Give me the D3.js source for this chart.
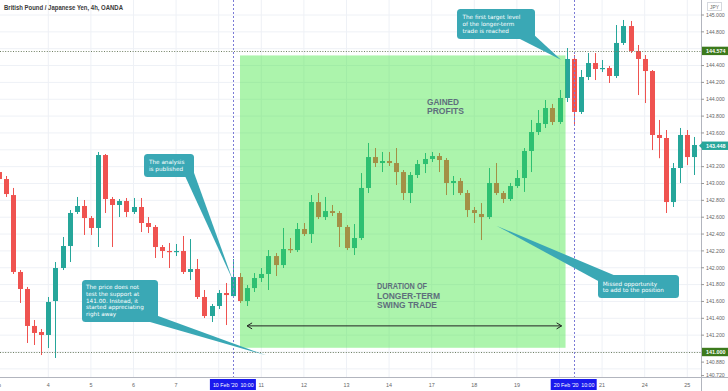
<!DOCTYPE html>
<html><head><meta charset="utf-8">
<script src="https://cdn.jsdelivr.net/npm/d3@7"></script>
<style>body{margin:0;background:#fff;}svg{display:block;}</style>
</head><body>
<svg id="c" width="728" height="391"></svg>
<script>
// ---- data (GBP/JPY 4h candles, index 0..98) ----
const opens = [143.136,143.053,142.863,141.950,141.748,141.309,141.237,141.202,141.605,141.997,
142.258,142.662,142.733,142.590,142.472,143.338,142.816,142.745,142.792,142.662,
142.721,142.531,142.484,142.246,142.199,142.187,142.199,141.950,141.985,141.653,
141.427,141.546,141.700,141.664,141.890,141.605,141.759,141.878,141.926,142.139,
142.032,142.222,142.210,142.460,142.400,142.780,142.602,142.673,142.650,142.484,
142.234,142.353,142.947,143.314,143.243,143.267,143.243,143.136,142.887,143.101,
143.231,143.291,143.326,143.279,143.006,143.030,142.887,142.685,142.638,142.602,
143.006,142.887,142.816,142.970,143.065,143.386,143.611,143.706,143.896,143.730,
144.015,144.478,143.849,144.264,144.430,144.359,144.371,144.276,144.668,144.869,
144.573,144.478,144.335,143.576,143.540,142.780,143.184,143.576,143.314];
const highs = [143.184,143.089,142.947,141.973,141.772,141.380,141.273,141.653,142.068,142.365,
142.685,142.840,142.804,142.614,143.374,143.350,142.840,142.816,142.828,142.828,
142.828,142.602,142.507,142.270,142.294,142.282,142.377,142.341,142.104,141.736,
141.570,141.736,141.819,142.104,141.937,141.795,141.937,141.997,142.210,142.175,
142.472,142.353,142.531,142.531,142.863,142.887,142.840,142.745,142.673,142.507,
142.519,143.124,143.481,143.421,143.374,143.374,143.421,143.160,143.136,143.279,
143.362,143.374,143.362,143.303,143.089,143.065,142.923,142.721,142.768,143.184,
143.243,142.911,143.006,143.160,143.421,143.754,143.872,143.991,143.944,144.110,
144.608,144.525,144.347,144.549,144.549,144.466,144.395,144.881,144.941,144.929,
144.644,144.525,144.347,143.754,143.635,143.243,143.659,143.635,143.552];
const lows = [143.018,142.840,141.926,141.582,141.107,141.083,140.964,141.047,140.929,141.973,
142.068,142.638,142.389,142.389,142.246,142.650,142.246,142.602,142.602,142.638,
142.424,142.412,142.116,142.116,141.997,142.139,141.926,141.854,141.629,141.403,
141.356,141.510,141.320,141.641,141.582,141.546,141.712,141.831,141.736,141.902,
141.997,142.175,142.187,142.377,142.294,142.578,142.567,142.614,142.246,142.210,
142.151,142.329,142.887,143.196,143.136,143.208,142.982,142.804,142.768,143.065,
143.124,143.255,143.136,142.863,142.863,142.863,142.602,142.531,142.329,142.578,
142.863,142.768,142.792,142.947,142.900,143.136,143.576,143.659,143.694,143.706,
143.967,143.694,143.825,144.228,144.228,144.323,144.193,144.252,144.644,144.549,
144.050,143.955,143.397,143.300,142.650,142.721,143.006,143.219,143.101];
const closes = [143.053,142.875,141.950,141.748,141.309,141.226,141.202,141.594,141.997,142.258,
142.650,142.733,142.590,142.472,143.338,142.816,142.745,142.792,142.662,142.721,
142.531,142.484,142.246,142.199,142.187,142.199,141.950,141.985,141.653,141.427,
141.546,141.700,141.676,141.890,141.605,141.759,141.878,141.926,142.139,142.032,
142.222,142.210,142.460,142.400,142.780,142.602,142.673,142.650,142.484,142.234,
142.353,142.947,143.314,143.243,143.267,143.243,143.136,142.887,143.101,143.231,
143.291,143.326,143.279,143.006,143.030,142.887,142.685,142.650,142.602,143.006,
142.887,142.816,142.970,143.065,143.386,143.611,143.718,143.896,143.730,144.015,
144.478,143.849,144.264,144.430,144.359,144.371,144.276,144.668,144.869,144.573,
144.478,144.335,143.576,143.540,142.780,143.184,143.576,143.314,143.457];

const dayLabels = ["Feb","4","5","6","7","10","11","12","13","14","17","18","19","20","21","24","25"];
const dayStartIndex = [-0.3,7,13,19,25,31,37,43,49,55,61,67,73,79,85,91,97];
const hiddenDayLabels = ["10","20"];           // covered by the event date boxes
const priceTicks = [145.0,144.8,144.4,144.2,144.0,143.8,143.6,143.2,143.0,
  142.8,142.6,142.4,142.2,142.0,141.8,141.6,141.4,141.2,140.88,140.72];
const gridPrices = [145.0,144.8,144.6,144.4,144.2,144.0,143.8,143.6,143.4,143.2,143.0,
  142.8,142.6,142.4,142.2,142.0,141.8,141.6,141.4,141.2,141.0,140.8];
const targetLevel = 144.574, supportLevel = 141.000, lastPrice = 143.448;
const eventIndex = [33, 81];
const eventLabels = [["10 Feb '20","10:00"],["20 Feb '20","10:00"]];
const tradeStart = 34, tradeEnd = 79.85, zoneTop = 144.52, zoneBottom = 141.05;

// ---- scales ----
const W = 728, H = 391, axisX = 701, axisY = 377;
const x = d3.scaleLinear().domain([0, 98]).range([-1.4, 694.4]);
const y = d3.scaleLinear().domain([141, 145]).range([352, 15]);
const svg = d3.select("#c");
const FONT = "'Liberation Sans', Arial, sans-serif";

const candles = d3.range(opens.length).map(i => ({i, o:opens[i], h:highs[i], l:lows[i], c:closes[i]}));

svg.append("defs").append("clipPath").attr("id","plot")
  .append("rect").attr("x",0).attr("y",0).attr("width",axisX).attr("height",axisY);

const plot = svg.append("g").attr("clip-path","url(#plot)");

// grid
plot.selectAll("line.hg").data(gridPrices).join("line")
  .attr("x1",0).attr("x2",axisX).attr("y1",d=>y(d)).attr("y2",d=>y(d))
  .attr("stroke","#eef1f6").attr("stroke-width",1);
plot.selectAll("line.vg").data(dayStartIndex).join("line")
  .attr("x1",d=>x(d)).attr("x2",d=>x(d)).attr("y1",0).attr("y2",axisY)
  .attr("stroke","#eef1f6").attr("stroke-width",1);

// candles
const up = "#26a69a", dn = "#ef5350";
plot.selectAll("line.wick").data(candles).join("line")
  .attr("x1",d=>Math.round(x(d.i))+0.5).attr("x2",d=>Math.round(x(d.i))+0.5)
  .attr("y1",d=>y(d.h)).attr("y2",d=>y(d.l))
  .attr("stroke",d=>d.c>=d.o?up:dn).attr("stroke-width",1);
plot.selectAll("rect.body").data(candles).join("rect")
  .attr("x",d=>Math.round(x(d.i))-2).attr("width",5)
  .attr("y",d=>y(Math.max(d.o,d.c)))
  .attr("height",d=>Math.max(1.2, Math.abs(y(d.o)-y(d.c))))
  .attr("fill",d=>d.c>=d.o?up:dn);

// green trade zone overlay
plot.append("rect")
  .attr("x",x(tradeStart)).attr("width",x(tradeEnd)-x(tradeStart))
  .attr("y",y(zoneTop)).attr("height",y(zoneBottom)-y(zoneTop))
  .attr("fill","rgb(58,228,58)").attr("fill-opacity",0.42);

// dotted levels
[targetLevel, supportLevel].forEach(v=>{
  plot.append("line").attr("x1",0).attr("x2",axisX).attr("y1",Math.round(y(v))+0.5).attr("y2",Math.round(y(v))+0.5)
    .attr("stroke","#6f7f62").attr("stroke-width",1).attr("stroke-dasharray","1,1.6");
});

// vertical dashed event lines
eventIndex.forEach(ix=>{
  svg.append("line").attr("x1",Math.round(x(ix))+0.5).attr("x2",Math.round(x(ix))+0.5)
    .attr("y1",0).attr("y2",axisY+2)
    .attr("stroke","#7b7bd6").attr("stroke-width",1).attr("stroke-dasharray","2,2");
});

// texts in zone
function label(lines, x0, y0, lens){
  const t = svg.append("g");
  lines.forEach((s,k)=>t.append("text").attr("x",x0).attr("y",y0+k*9.6).text(s)
    .attr("font-family",FONT).attr("font-size",8.8).attr("font-weight",600)
    .attr("fill","#5e6e7c").attr("textLength",lens[k]).attr("lengthAdjust","spacingAndGlyphs"));
}
label(["GAINED","PROFITS"], 427, 104.5, [32,37]);
label(["DURATION OF","LONGER-TERM","SWING TRADE"], 377, 289, [50,63,60]);

// double arrow
const arrowY = y(141.31);
const ax1 = x(35), ax2 = x(79.3);
svg.append("line").attr("x1",ax1).attr("x2",ax2).attr("y1",arrowY).attr("y2",arrowY)
  .attr("stroke","#222").attr("stroke-width",1);
svg.append("path").attr("d",`M${ax1+5},${arrowY-3}L${ax1},${arrowY}L${ax1+5},${arrowY+3}`)
  .attr("fill","none").attr("stroke","#222").attr("stroke-width",1);
svg.append("path").attr("d",`M${ax2-5},${arrowY-3}L${ax2},${arrowY}L${ax2-5},${arrowY+3}`)
  .attr("fill","none").attr("stroke","#222").attr("stroke-width",1);

// callouts
const teal = "#3aa8b5";
function callout(bx,by,bw,bh,tail,lines,tx,ty){
  const g = svg.append("g");
  g.append("path").attr("d",`M${tail[0][0]},${tail[0][1]}L${tail[2][0]},${tail[2][1]}L${tail[1][0]},${tail[1][1]}Z`).attr("fill",teal);
  g.append("rect").attr("x",bx).attr("y",by).attr("width",bw).attr("height",bh).attr("rx",3.5).attr("fill",teal);
  lines.forEach((s,k)=>g.append("text").attr("x",tx).attr("y",ty+k*6.75).text(s)
    .attr("font-family","'DejaVu Sans', Verdana, sans-serif").attr("font-size",5.7).attr("fill","#fff"));
}
callout(144,154,50,23,[[185,176],[193,170],[x(33),y(141.85)]],
  ["The analysis","is published"],149,164.2);
callout(82,280,76,42,[[150,313],[150,322],[x(37.7),y(140.96)]],
  ["The price does not","test the support at","141.00. Instead, it","started appreciating","right away"],86,289.2);
callout(457,9,78,30,[[518,38],[532,33],[x(79.2),y(144.47)]],
  ["The first target level","of the longer-term","trade is reached"],462.5,19.3);
callout(598,275,81,23,[[600,282],[616,276],[x(70.1),y(142.50)]],
  ["Missed opportunity","to add to the position"],602.7,285.6);

// axes lines
svg.append("line").attr("x1",axisX+0.5).attr("x2",axisX+0.5).attr("y1",0).attr("y2",H).attr("stroke","#b2b5be");
svg.append("line").attr("x1",0).attr("x2",W).attr("y1",axisY+0.5).attr("y2",axisY+0.5).attr("stroke","#b2b5be");

// right axis ticks
const yt = svg.append("g");
priceTicks.forEach(v=>{
  yt.append("line").attr("x1",axisX).attr("x2",axisX+3).attr("y1",y(v)).attr("y2",y(v)).attr("stroke","#999");
  yt.append("text").attr("x",706).attr("y",y(v)+1.8).text(v.toFixed(3))
    .attr("font-family",FONT).attr("font-size",5.2).attr("fill","#666");
});
// JPY box
svg.append("rect").attr("x",707.5).attr("y",2.5).attr("width",14).attr("height",8).attr("fill","#fff").attr("stroke","#d5d8de");
svg.append("text").attr("x",714.5).attr("y",8.6).attr("text-anchor","middle").text("JPY")
  .attr("font-family",FONT).attr("font-size",4.8).attr("fill","#666");

// price labels
function priceBox(v, color, arrow){
  const yy = y(v);
  if(arrow) svg.append("path").attr("d",`M${axisX-2},${yy}L${axisX+2},${yy-4}L${axisX+2},${yy+4}Z`).attr("fill",color);
  svg.append("rect").attr("x",axisX+1).attr("y",yy-4.2).attr("width",W-axisX-1).attr("height",8.4).attr("fill",color);
  svg.append("text").attr("x",706).attr("y",yy+1.9).text(v.toFixed(3))
    .attr("font-family",FONT).attr("font-size",5.4).attr("font-weight",700).attr("fill","#fff");
}
priceBox(targetLevel,"#3c7a1c",false);
priceBox(supportLevel,"#3c7a1c",false);
priceBox(lastPrice,"#26a69a",true);

// x axis labels
dayLabels.forEach((s,k)=>{
  if(hiddenDayLabels.includes(s)) return;
  svg.append("text").attr("x",x(dayStartIndex[k])).attr("y",387).attr("text-anchor","middle").text(s)
    .attr("font-family",FONT).attr("font-size",5.4).attr("fill","#666");
});
eventIndex.forEach((ix,k)=>{
  const cx = x(ix);
  svg.append("rect").attr("x",cx-23).attr("y",379).attr("width",46).attr("height",11).attr("fill","#1a1aee");
  svg.append("text").attr("x",cx-20).attr("y",386.6).text(eventLabels[k][0])
    .attr("font-family",FONT).attr("font-size",5.3).attr("fill","#fff");
  svg.append("text").attr("x",cx+7.5).attr("y",386.6).text(eventLabels[k][1])
    .attr("font-family",FONT).attr("font-size",5.3).attr("fill","#fff");
});

// title
svg.append("text").attr("x",4).attr("y",9.6).text("British Pound / Japanese Yen, 4h, OANDA")
  .attr("font-family",FONT).attr("font-size",6.4).attr("font-weight",600).attr("fill","#3a3a3a")
  .attr("textLength",119).attr("lengthAdjust","spacingAndGlyphs");
</script>
</body></html>
